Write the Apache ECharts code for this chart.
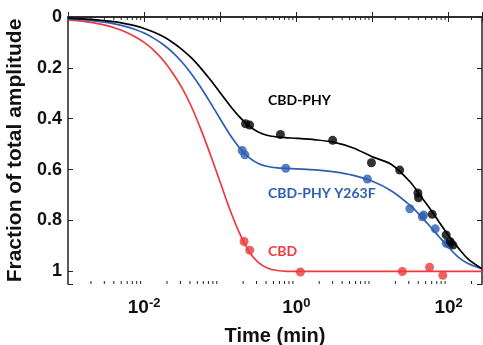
<!DOCTYPE html>
<html>
<head>
<meta charset="utf-8">
<script src="https://cdn.jsdelivr.net/npm/echarts@6/dist/echarts.min.js"></script>
<style>html,body{margin:0;padding:0;background:#fff;}#c{width:483px;height:345px;}</style>
</head>
<body>
<div id="c"></div>
<script>
// Sample times (min) for the fitted curves
const time = [0.001, 0.00133, 0.00178, 0.00237, 0.00316, 0.00422, 0.00562, 0.0075, 0.01, 0.0133,
  0.0178, 0.0237, 0.0316, 0.0422, 0.0562, 0.075, 0.1, 0.133, 0.178, 0.237,
  0.316, 0.422, 0.562, 0.75, 1, 1.78, 3.16, 5.62, 10, 17.8,
  31.6, 42.2, 56.2, 75, 100, 133, 178, 275];
// Fitted curves (fraction of total amplitude)
const fitPHY = [0.005, 0.006, 0.008, 0.011, 0.015, 0.019, 0.026, 0.034, 0.045, 0.059,
  0.077, 0.1, 0.128, 0.162, 0.203, 0.249, 0.298, 0.347, 0.392, 0.428,
  0.452, 0.466, 0.472, 0.475, 0.477, 0.483, 0.493, 0.515, 0.55, 0.58,
  0.65, 0.701, 0.751, 0.806, 0.859, 0.907, 0.95, 0.99];
const fitY263F = [0.007, 0.009, 0.012, 0.016, 0.021, 0.028, 0.037, 0.048, 0.063, 0.083,
  0.108, 0.139, 0.178, 0.225, 0.279, 0.339, 0.401, 0.461, 0.513, 0.552,
  0.576, 0.588, 0.593, 0.595, 0.597, 0.601, 0.609, 0.623, 0.646, 0.684,
  0.742, 0.78, 0.821, 0.864, 0.906, 0.943, 0.968, 0.99];
const fitCBD = [0.011, 0.014, 0.019, 0.025, 0.033, 0.044, 0.058, 0.077, 0.1, 0.13,
  0.17, 0.22, 0.28, 0.355, 0.445, 0.545, 0.65, 0.755, 0.848, 0.92,
  0.965, 0.988, 0.997, 1, 1, 1, 1, 1, 1, 1,
  1, 1, 1, 1, 1, 1, 1, 1];
// Measured points
const ptsPHYTime = [0.215, 0.244, 0.618, 3.0, 9.7, 22.8, 39.5, 40.3, 61, 93, 105, 114];
const ptsPHY     = [0.42, 0.425, 0.462, 0.485, 0.573, 0.602, 0.692, 0.711, 0.776, 0.857, 0.884, 0.897];
const ptsY263FTime = [0.194, 0.211, 0.726, 8.57, 31, 45.2, 47, 66.9, 93, 103];
const ptsY263F     = [0.525, 0.542, 0.595, 0.637, 0.754, 0.786, 0.779, 0.833, 0.89, 0.895];
const ptsCBDTime = [0.206, 0.244, 1.13, 24.7, 56.3, 84];
const ptsCBD     = [0.883, 0.917, 1.003, 1.001, 0.984, 1.016];
// Tick labels
const xTickLabels = {'-2': '-2', '0': '0', '2': '2'};
const yTickLabels = {'0': '0', '0.2': '0.2', '0.4': '0.4', '0.6': '0.6', '0.8': '0.8', '1': '1'};

const cBlack = '#000000', cBlue = '#2c5fb3', cRed = '#ee3a3c';
const pair = (xs, ys) => xs.map((x, i) => [x, ys[i]]);

// minor tick positions on log axis (axis decoration)
const minorTicks = [];
for (let e = -3; e <= 2; e++) for (let m = 2; m <= 9; m++) {
  const v = m * Math.pow(10, e);
  if (v <= 275) minorTicks.push([v]);
}

const axisFont = {fontFamily: 'Liberation Sans', fontWeight: 'bold', color: '#111'};
const lineStyleAxis = {color: '#222', width: 1.5};

const chart = echarts.init(document.getElementById('c'), null, {renderer: 'canvas'});
chart.setOption({
  animation: false,
  backgroundColor: '#fff',
  grid: {left: 68, right: 1, top: 17, bottom: 61, containLabel: false, outerBoundsMode: 'none'},
  xAxis: [{
    type: 'log', logBase: 10, min: 0.001, max: 275,
    name: 'Time (min)', nameLocation: 'middle', nameGap: 42,
    nameTextStyle: Object.assign({fontSize: 20}, axisFont),
    axisLine: {lineStyle: lineStyleAxis},
    axisTick: {inside: true, length: 5, lineStyle: {color: '#222', width: 1}},
    splitLine: {show: false},
    axisLabel: {
      margin: 13,
      formatter: v => {
        const e = Math.round(Math.log10(v));
        if (Math.abs(Math.log10(v) - e) > 1e-6) return '';
        const k = String(e);
        return xTickLabels[k] !== undefined ? '{b|10}{s|' + xTickLabels[k] + '}' : '';
      },
      rich: {
        b: {fontSize: 19, fontFamily: 'Liberation Sans', fontWeight: 'bold', color: '#111'},
        s: {fontSize: 13, fontFamily: 'Liberation Sans', fontWeight: 'bold', color: '#111', padding: [0, 0, 9, 0]}
      }
    }
  }, {
    type: 'log', logBase: 10, min: 0.001, max: 275, position: 'top',
    axisLine: {lineStyle: lineStyleAxis},
    axisTick: {inside: true, length: 5, lineStyle: {color: '#222', width: 1}},
    axisLabel: {show: false}, splitLine: {show: false}
  }],
  yAxis: [{
    type: 'value', inverse: true, min: 0, max: 1.05, interval: 0.2,
    name: 'Fraction of total amplitude', nameLocation: 'middle', nameGap: 36,
    nameTextStyle: Object.assign({fontSize: 21}, axisFont),
    axisLine: {show: true, lineStyle: lineStyleAxis},
    axisTick: {show: true, inside: true, length: 5, lineStyle: {color: '#222', width: 1}},
    splitLine: {show: false},
    axisLabel: Object.assign({fontSize: 18, margin: 6,
      formatter: v => { const k = String(Math.round(v * 10) / 10); return Math.abs(v * 5 - Math.round(v * 5)) < 1e-6 && yTickLabels[k] ? yTickLabels[k] : ''; }
    }, axisFont)
  }, {
    type: 'value', inverse: true, min: 0, max: 1.05, interval: 0.2, position: 'right',
    axisLine: {show: true, lineStyle: lineStyleAxis},
    axisTick: {show: true, inside: true, length: 5, lineStyle: {color: '#222', width: 1}},
    axisLabel: {show: false}, splitLine: {show: false}
  }],
  series: [
    {type: 'custom', silent: true, z: 10, data: minorTicks, clip: false,
      renderItem: (params, api) => {
        const cs = params.coordSys;
        const p = api.coord([api.value(0), 0.5]);
        const st = {stroke: '#222', lineWidth: 1};
        return {type: 'group', children: [
          {type: 'line', shape: {x1: p[0], y1: cs.y + cs.height, x2: p[0], y2: cs.y + cs.height - 3}, style: st},
          {type: 'line', shape: {x1: p[0], y1: cs.y, x2: p[0], y2: cs.y + 3}, style: st}
        ]};
      }},
    {type: 'line', data: pair(time, fitCBD), showSymbol: false, smooth: 0.3,
      lineStyle: {color: cRed, width: 1.7}, itemStyle: {color: cRed}},
    {type: 'line', data: pair(time, fitY263F), showSymbol: false, smooth: 0.3,
      lineStyle: {color: cBlue, width: 1.7}, itemStyle: {color: cBlue}},
    {type: 'line', data: pair(time, fitPHY), showSymbol: false, smooth: 0.3,
      lineStyle: {color: cBlack, width: 1.7}, itemStyle: {color: cBlack}},
    {type: 'scatter', data: pair(ptsCBDTime, ptsCBD), symbolSize: 9, itemStyle: {color: cRed}},
    {type: 'scatter', data: pair(ptsY263FTime, ptsY263F), symbolSize: 9, itemStyle: {color: cBlue}},
    {type: 'scatter', data: pair(ptsPHYTime, ptsPHY), symbolSize: 9, itemStyle: {color: cBlack}}
  ],
  graphic: [
    {type: 'text', left: 268, top: 93, style: {text: 'CBD-PHY', fill: cBlack, font: 'bold 14px Lato'}},
    {type: 'text', left: 268, top: 186, style: {text: 'CBD-PHY Y263F', fill: cBlue, font: 'bold 14px Lato'}},
    {type: 'text', left: 268, top: 244, style: {text: 'CBD', fill: cRed, font: 'bold 14px Lato'}}
  ]
});
</script>
</body>
</html>
